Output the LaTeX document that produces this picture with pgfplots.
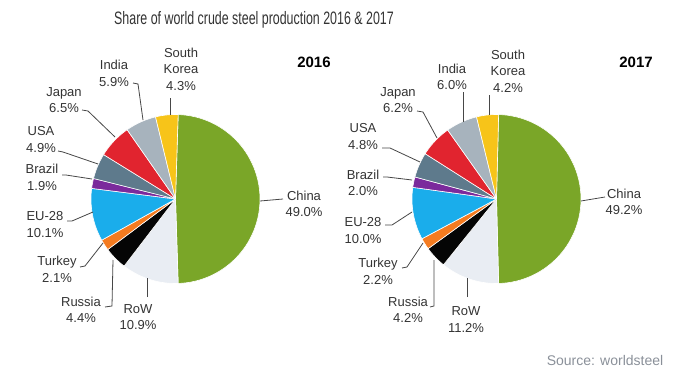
\documentclass[border=0pt]{standalone}
\usepackage{pgfplots}
\pgfplotsset{compat=1.18}
\usepackage{fontspec}
\setmainfont{Liberation Sans}
\definecolor{cChina}{HTML}{7AA628}
\definecolor{cRoW}{HTML}{E9EDF3}
\definecolor{cRussia}{HTML}{050505}
\definecolor{cTurkey}{HTML}{F47B20}
\definecolor{cEU}{HTML}{1AADEB}
\definecolor{cBrazil}{HTML}{7B2A9C}
\definecolor{cUSA}{HTML}{5E7A8C}
\definecolor{cJapan}{HTML}{E1242F}
\definecolor{cIndia}{HTML}{A7B3BD}
\definecolor{cSK}{HTML}{F7C419}
\definecolor{txt}{HTML}{333333}
\definecolor{src}{HTML}{8A9099}
\tikzset{
  lbl/.style={align=center, font=\fontsize{13}{16.5}\selectfont, text=txt, inner sep=0pt},
  leader/.style={draw=txt!90, line width=0.8pt},
}
% slice: colour, start (cumulative %), value (%), centre x, rotation offset (deg)
\newcommand\slice[5]{%
  \addplot[fill=#1, draw=white, line width=0.6pt, line join=round,
    domain={#2}:{#2+#3}, samples=60, variable=\t]
    ({#4+84.5*sin(3.6*\t+#5)}, {199-84.5*cos(3.6*\t+#5)}) -- (axis cs:#4,199) -- cycle;
}
\begin{document}
\begin{tikzpicture}
\begin{axis}[
  width=680pt, height=380pt, scale only axis,
  xmin=0, xmax=680, ymin=0, ymax=380, y dir=reverse,
  hide axis, clip=false,
]
% ---- 2016 ----
\slice{cChina}{0}{49.0}{175.5}{1.8}
\slice{cRoW}{49.0}{10.9}{175.5}{1.8}
\slice{cRussia}{59.9}{4.4}{175.5}{1.8}
\slice{cTurkey}{64.3}{2.1}{175.5}{1.8}
\slice{cEU}{66.4}{10.1}{175.5}{1.8}
\slice{cBrazil}{76.5}{1.9}{175.5}{1.8}
\slice{cUSA}{78.4}{4.9}{175.5}{1.8}
\slice{cJapan}{83.3}{6.5}{175.5}{1.8}
\slice{cIndia}{89.8}{5.9}{175.5}{1.8}
\slice{cSK}{95.7}{4.3}{175.5}{1.8}
% ---- 2017 ----
\slice{cChina}{0}{49.2}{496.5}{1.44}
\slice{cRoW}{49.2}{11.2}{496.5}{1.44}
\slice{cRussia}{60.4}{4.2}{496.5}{1.44}
\slice{cTurkey}{64.6}{2.2}{496.5}{1.44}
\slice{cEU}{66.8}{10.0}{496.5}{1.44}
\slice{cBrazil}{76.8}{2.0}{496.5}{1.44}
\slice{cUSA}{78.8}{4.8}{496.5}{1.44}
\slice{cJapan}{83.6}{6.2}{496.5}{1.44}
\slice{cIndia}{89.8}{6.0}{496.5}{1.44}
\slice{cSK}{95.8}{4.2}{496.5}{1.44}

% title and headings
\node[font=\fontsize{18}{20}\selectfont, text=txt] at (axis cs:254,20) {\scalebox{0.69}[1]{Share of world crude steel production 2016 \& 2017}};
\node[font=\bfseries\fontsize{15}{17}\selectfont, text=black] at (axis cs:314,62) {2016};
\node[font=\bfseries\fontsize{15}{17}\selectfont, text=black] at (axis cs:636,62) {2017};
\node[font=\fontsize{14}{16}\selectfont, text=src] at (axis cs:605,360) {Source: worldsteel};

% labels 2016
\node[lbl] at (axis cs:181,69) {South\\Korea\\4.3\%};
\node[lbl] at (axis cs:114,73.5) {India\\5.9\%};
\node[lbl] at (axis cs:64,100) {Japan\\6.5\%};
\node[lbl] at (axis cs:41,139.5) {USA\\4.9\%};
\node[lbl] at (axis cs:42,177.5) {Brazil\\1.9\%};
\node[lbl] at (axis cs:45,224.5) {EU-28\\10.1\%};
\node[lbl] at (axis cs:57,269.5) {Turkey\\2.1\%};
\node[lbl] at (axis cs:81,310) {Russia\\4.4\%};
\node[lbl] at (axis cs:138,317) {RoW\\10.9\%};
\node[lbl] at (axis cs:304,204) {China\\49.0\%};
\draw[leader] (axis cs:170,98) -- (axis cs:170,115);
\draw[leader] (axis cs:133,83) -- (axis cs:138,84) -- (axis cs:143,120);
\draw[leader] (axis cs:82,110) -- (axis cs:88,111) -- (axis cs:115,137);
\draw[leader] (axis cs:58,151) -- (axis cs:63,152) -- (axis cs:98,164);
\draw[leader] (axis cs:62,175) -- (axis cs:66,175) -- (axis cs:92,179);
\draw[leader] (axis cs:67,221) -- (axis cs:72,221) -- (axis cs:93,212);
\draw[leader] (axis cs:80,267) -- (axis cs:85,266) -- (axis cs:103,243);
\draw[leader] (axis cs:105,307) -- (axis cs:112,306) -- (axis cs:113,260);
\draw[leader] (axis cs:147,297) -- (axis cs:147,278);
\draw[leader] (axis cs:260,201) -- (axis cs:283,199);

% labels 2017
\node[lbl] at (axis cs:508,71) {South\\Korea\\4.2\%};
\node[lbl] at (axis cs:452,77) {India\\6.0\%};
\node[lbl] at (axis cs:398,100) {Japan\\6.2\%};
\node[lbl] at (axis cs:363,136.5) {USA\\4.8\%};
\node[lbl] at (axis cs:363,183) {Brazil\\2.0\%};
\node[lbl] at (axis cs:363,230.5) {EU-28\\10.0\%};
\node[lbl] at (axis cs:378,271.5) {Turkey\\2.2\%};
\node[lbl] at (axis cs:408,310) {Russia\\4.2\%};
\node[lbl] at (axis cs:466,319.5) {RoW\\11.2\%};
\node[lbl] at (axis cs:624,202) {China\\49.2\%};
\draw[leader] (axis cs:489,95) -- (axis cs:489,115);
\draw[leader] (axis cs:463,92) -- (axis cs:463,122);
\draw[leader] (axis cs:417,111) -- (axis cs:423,112) -- (axis cs:437,138);
\draw[leader] (axis cs:382,148) -- (axis cs:390,148) -- (axis cs:420,162);
\draw[leader] (axis cs:383,177) -- (axis cs:387,177) -- (axis cs:412,180);
\draw[leader] (axis cs:385,225) -- (axis cs:392,225) -- (axis cs:412,212);
\draw[leader] (axis cs:402,268) -- (axis cs:407,267) -- (axis cs:423,243);
\draw[leader] (axis cs:430,307) -- (axis cs:434,306) -- (axis cs:434,260);
\draw[leader] (axis cs:467,297) -- (axis cs:467,278);
\draw[leader] (axis cs:581,201) -- (axis cs:605,197);
\end{axis}
\pgfresetboundingbox
\path (current axis.south west) rectangle (current axis.north east);
\end{tikzpicture}
\end{document}
